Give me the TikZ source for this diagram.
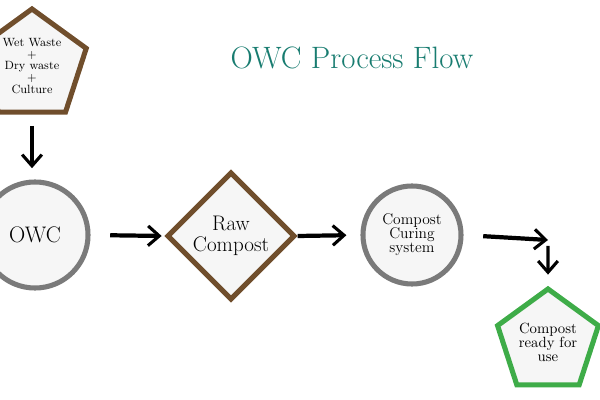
\documentclass[tikz,border=0pt]{standalone}
\usepackage{xcolor}
\usepackage{tikz}
\usetikzlibrary{arrows.meta,shapes.geometric}

\definecolor{owcbrown}{RGB}{112,78,44}
\definecolor{owcgray}{RGB}{122,122,122}
\definecolor{owcgreen}{RGB}{62,172,72}
\definecolor{owcteal}{RGB}{24,124,112}
\definecolor{owcfill}{RGB}{246,246,246}

\begin{document}
\begin{tikzpicture}[x=0.025cm,y=-0.025cm,>={Straight Barb[length=8pt,width=14pt,line width=2.2pt]},
  pentbox/.style={regular polygon,regular polygon sides=5,draw,line width=3.6pt,fill=owcfill,inner sep=0pt,align=center},
  roundbox/.style={circle,draw=owcgray,line width=3.6pt,fill=owcfill,inner sep=0pt,align=center},
  flow/.style={->,line width=3pt}]
  \useasboundingbox (0,0) rectangle (600,400);
  \node[owcteal,font=\fontsize{22}{26}\selectfont] (title) at (352,58) {OWC Process Flow};
  \node[pentbox,draw=owcbrown,minimum size=2.85cm,font=\fontsize{8.5}{8.2}\selectfont] (input) at (32,66) {Wet Waste\\+\\Dry waste\\+\\Culture};
  \node[roundbox,minimum size=2.65cm,font=\fontsize{16}{18}\selectfont] (owc) at (35,235) {OWC};
  \node[diamond,aspect=1,draw=owcbrown,line width=3.6pt,fill=owcfill,inner sep=0pt,minimum size=3.2cm,align=center,font=\fontsize{15}{14.5}\selectfont] (raw) at (231,236) {Raw\\Compost};
  \node[roundbox,minimum size=2.45cm,font=\fontsize{11}{10}\selectfont] (curing) at (412,235) {Compost\\Curing\\system};
  \node[pentbox,draw=owcgreen,minimum size=2.65cm,font=\fontsize{10.5}{10}\selectfont] (ready) at (548,342) {Compost\\ready for\\use};
  \coordinate (bend) at (548,240);
  \coordinate (drop) at (548,246);
  % arrows between the steps
  \draw[flow,shorten <=8pt,shorten >=8pt] (input.south) -- (owc.north -| input.south);
  \draw[flow,shorten <=14pt,shorten >=2pt] (owc.east) -- (raw.west);
  \draw[flow,shorten >=10pt] (raw.east) -- (curing.west);
  \draw[flow,shorten <=14pt] (curing.east) -- (bend);
  \draw[flow,line width=2.4pt,shorten >=8pt] (drop) -- (ready.north);
\end{tikzpicture}
\end{document}
